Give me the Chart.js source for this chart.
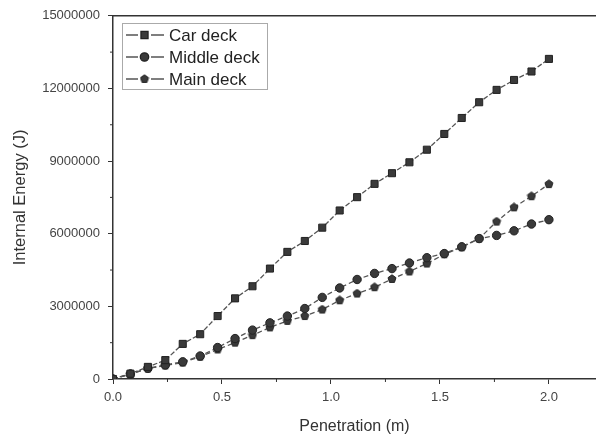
<!DOCTYPE html>
<html><head><meta charset="utf-8">
<script src="https://cdn.jsdelivr.net/npm/chart.js@4/dist/chart.umd.min.js"></script>
<style>html,body{margin:0;padding:0;background:#fff;overflow:hidden}#outer{width:596px;height:438px;overflow:hidden}#wrap{width:602px;height:438px;position:relative}</style>
</head><body><div id="outer"><div id="wrap"><canvas id="c"></canvas></div></div>
<script>
// Penetration (m)
const penetration = [0,0.08,0.16,0.24,0.32,0.40,0.48,0.56,0.64,0.72,0.80,0.88,0.96,1.04,1.12,1.20,1.28,1.36,1.44,1.52,1.60,1.68,1.76,1.84,1.92,2.00];
// Internal energy (J)
const carDeck    = [0,220000,500000,780000,1450000,1850000,2600000,3330000,3830000,4560000,5250000,5700000,6250000,6960000,7510000,8060000,8500000,8950000,9470000,10120000,10780000,11430000,11940000,12350000,12700000,13220000];
const middleDeck = [0,210000,440000,580000,710000,950000,1300000,1670000,2020000,2320000,2600000,2910000,3370000,3760000,4110000,4360000,4560000,4790000,5010000,5180000,5460000,5800000,5930000,6120000,6400000,6580000];
const mainDeck   = [0,200000,430000,560000,680000,920000,1220000,1500000,1810000,2130000,2400000,2600000,2870000,3250000,3530000,3790000,4130000,4440000,4770000,5150000,5440000,5800000,6500000,7090000,7550000,8050000];
const seriesNames = ['Car deck','Middle deck','Main deck'];
const xTickValues = [0,0.5,1.0,1.5,2.0];
const xMinorValues = [0.25,0.75,1.25,1.75];
const yTickValues = [0,3000000,6000000,9000000,12000000,15000000];
const yMinorValues = [1500000,4500000,7500000,10500000,13500000];

const ink = '#333';
const lineCol = '#555';

function pentagon(size){
  const cv = document.createElement('canvas');
  cv.width = size; cv.height = size;
  const g = cv.getContext('2d');
  const c = size/2, r = size/2 - 0.8;
  g.beginPath();
  for (let i=0;i<5;i++){
    const a = -Math.PI/2 + i*2*Math.PI/5;
    const px = c + r*Math.cos(a), py = c + r*Math.sin(a);
    i ? g.lineTo(px,py) : g.moveTo(px,py);
  }
  g.closePath();
  g.fillStyle = '#3a3a3a'; g.fill();
  g.strokeStyle = '#222'; g.lineWidth = 1; g.stroke();
  return cv;
}
const pentImg = pentagon(10);

function pts(ys){ return penetration.map((x,i)=>({x:x,y:ys[i]})); }

const styles = [
  {pointStyle:'rect', pointRadius:5, borderDash:[5,2]},
  {pointStyle:'circle', pointRadius:4.2, borderDash:[5,3]},
  {pointStyle:pentImg, pointRadius:5, borderDash:[5,3]}
];
const seriesData = [carDeck, middleDeck, mainDeck];

const datasets = seriesData.map((d,i)=>({
  label: seriesNames[i],
  data: pts(d),
  borderColor: lineCol,
  borderWidth: 1.3,
  borderDash: styles[i].borderDash,
  pointStyle: styles[i].pointStyle,
  pointRadius: styles[i].pointRadius,
  pointBackgroundColor: '#3a3a3a',
  pointBorderColor: '#222',
  pointBorderWidth: 1,
  fill: false,
  tension: 0
}));

const frameAndLegend = {
  id: 'frameAndLegend',
  afterDraw(chart){
    const ctx = chart.ctx, a = chart.chartArea;
    const xs = chart.scales.x, ys = chart.scales.y;
    ctx.save();
    ctx.strokeStyle = ink; ctx.lineWidth = 1.5;
    ctx.beginPath(); ctx.moveTo(a.left, a.top); ctx.lineTo(a.right, a.top); ctx.stroke();
    ctx.lineWidth = 1;
    xMinorValues.forEach(v=>{
      const px = xs.getPixelForValue(v);
      ctx.beginPath(); ctx.moveTo(px, a.bottom); ctx.lineTo(px, a.bottom+3); ctx.stroke();
    });
    yMinorValues.forEach(v=>{
      const py = ys.getPixelForValue(v);
      ctx.beginPath(); ctx.moveTo(a.left, py); ctx.lineTo(a.left-3, py); ctx.stroke();
    });
    const bx = 122, by = 23, bw = 145, bh = 66;
    ctx.strokeStyle = '#aaa'; ctx.lineWidth = 1;
    ctx.strokeRect(bx+0.5, by+0.5, bw, bh);
    const rowY = [35, 57, 79];
    chart.data.datasets.forEach((ds,i)=>{
      const y = rowY[i];
      ctx.strokeStyle = lineCol; ctx.lineWidth = 1.3;
      ctx.setLineDash([]);
      ctx.beginPath(); ctx.moveTo(126,y); ctx.lineTo(138,y); ctx.moveTo(151,y); ctx.lineTo(164,y); ctx.stroke();
      ctx.fillStyle = '#3a3a3a'; ctx.strokeStyle = '#222';
      Chart.helpers.drawPoint(ctx, {
        pointStyle: ds.pointStyle, radius: ds.pointRadius, borderWidth: 1, rotation: 0
      }, 144.5, y);
      ctx.fillStyle = '#222';
      ctx.font = '17px "Liberation Sans", Arial, sans-serif';
      ctx.textBaseline = 'middle'; ctx.textAlign = 'left';
      ctx.fillText(ds.label, 169, y+1);
    });
    ctx.restore();
  }
};

new Chart(document.getElementById('c'), {
  type: 'line',
  data: { datasets },
  options: {
    responsive: true,
    maintainAspectRatio: false,
    animation: false,
    devicePixelRatio: 1,
    layout: { padding: { top: 15, right: 0, left: 0, bottom: 0 } },
    plugins: { legend: { display: false }, tooltip: { enabled: false } },
    scales: {
      x: {
        type: 'linear', min: 0, max: 2.216,
        afterFit(s){ s.height = 59; },
        afterBuildTicks(s){ s.ticks = xTickValues.map(v=>({value:v})); },
        ticks: { includeBounds: false, padding: 6, color: '#444',
          font: { family: '"Liberation Sans", Arial, sans-serif', size: 13 },
          callback: v => Number(v).toFixed(1), maxRotation: 0 },
        grid: { drawOnChartArea: false, drawTicks: true, tickLength: 5, color: ink, tickWidth: 1 },
        border: { color: ink, width: 1.5 },
        title: { display: true, text: 'Penetration (m)', color: '#333',
          font: { family: '"Liberation Sans", Arial, sans-serif', size: 16 }, padding: { top: 0, bottom: 2 } }
      },
      y: {
        type: 'linear', min: 0, max: 15000000,
        afterFit(s){ s.width = 113; },
        afterBuildTicks(s){ s.ticks = yTickValues.map(v=>({value:v})); },
        ticks: { includeBounds: false, padding: 8, color: '#444',
          font: { family: '"Liberation Sans", Arial, sans-serif', size: 13 },
          callback: v => String(v) },
        grid: { drawOnChartArea: false, drawTicks: true, tickLength: 5, color: ink, tickWidth: 1 },
        border: { color: ink, width: 1.5 },
        title: { display: true, text: 'Internal Energy (J)', color: '#333',
          font: { family: '"Liberation Sans", Arial, sans-serif', size: 16.5 }, padding: { top: 11, bottom: 0 } }
      }
    }
  },
  plugins: [frameAndLegend]
});
</script>
</body></html>
